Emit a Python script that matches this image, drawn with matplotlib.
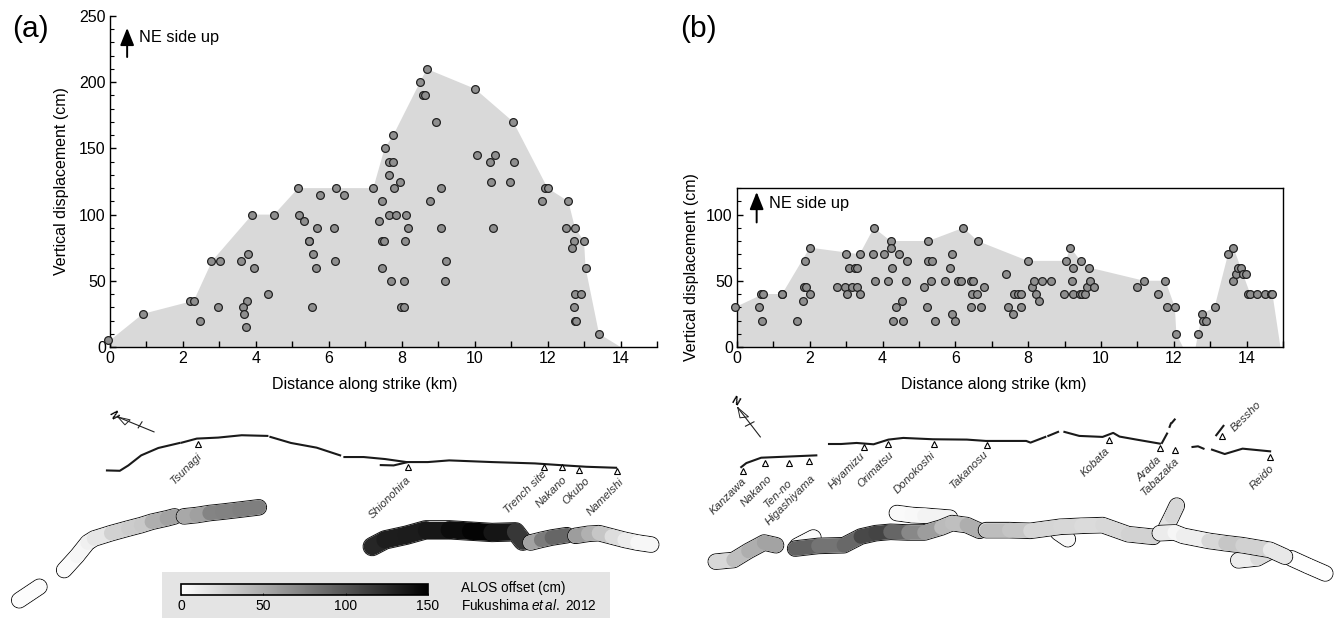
import numpy as np
import matplotlib
matplotlib.use('Agg')
import matplotlib.pyplot as plt
from matplotlib.collections import LineCollection
from matplotlib.cm import ScalarMappable
from matplotlib.colors import Normalize
from matplotlib.ticker import MultipleLocator

plt.rcParams['font.family'] = ['Liberation Sans', 'DejaVu Sans']
plt.rcParams['mathtext.fontset'] = 'custom'
plt.rcParams['mathtext.it'] = 'Liberation Sans:italic'
plt.rcParams['mathtext.rm'] = 'Liberation Sans'

W, H = 1335, 618

# ---- offset points, panel a
xa = [-0.05, 0.9, 2.2, 2.3, 2.47, 2.78, 3.02, 2.97, 3.58, 3.78, 3.95, 3.9, 4.5, 4.34, 3.75, 3.66, 3.68, 3.74,
      5.16, 5.18, 5.33, 5.69, 5.76, 5.45, 5.47, 5.57, 5.66, 5.54, 6.13, 6.19, 6.41, 6.16, 7.22, 7.39, 7.45, 7.45,
      7.45, 7.5, 7.53, 7.64, 7.64, 7.75, 7.77, 7.8, 7.94, 7.65, 7.83, 8.13, 8.16, 8.08, 7.7, 8.06, 7.97, 8.06,
      8.5, 8.58, 8.63, 8.69, 8.94, 8.78, 9.08, 9.09, 9.21, 9.18, 10.01, 10.07, 10.43, 10.55, 10.46, 10.51, 10.98,
      11.06, 11.08, 11.86, 11.92, 12.0, 12.57, 12.5, 12.75, 12.73, 12.66, 13.0, 13.04, 12.75, 12.92, 12.72, 12.75,
      12.77, 13.41]
ya = [5, 25, 35, 35, 20, 65, 65, 30, 65, 70, 60, 100, 100, 40, 35, 30, 25, 15,
      120, 100, 95, 90, 115, 80, 80, 70, 60, 30, 90, 120, 115, 65, 120, 95, 110, 60,
      80, 80, 150, 130, 140, 140, 160, 120, 125, 100, 100, 100, 90, 80, 50, 50, 30, 30,
      200, 190, 190, 210, 170, 110, 120, 90, 65, 50, 195, 145, 140, 145, 125, 90, 125,
      170, 140, 110, 120, 120, 110, 90, 90, 80, 75, 80, 60, 40, 40, 30, 20,
      20, 10]
env_xa = [0, 0.9, 2.3, 2.8, 3.9, 4.5, 5.16, 7.22, 7.53, 7.77, 8.5, 8.69, 10.01, 11.06, 12.0, 12.57, 12.75, 13.0, 13.04, 13.41, 14.0]
env_ya = [5, 25, 35, 65, 100, 100, 120, 120, 150, 160, 200, 210, 195, 170, 120, 110, 90, 80, 60, 10, 0]

# ---- offset points, panel b
xb = [-0.05, 0.6, 0.66, 0.72, 0.69, 1.23, 1.24, 1.64, 1.82, 1.86, 1.84, 1.89, 2.0, 2.01, 2.75, 2.98, 3.0, 3.01, 3.09,
      3.23, 3.31, 3.16, 3.29, 3.37, 3.38, 3.74, 3.76, 3.78, 4.04, 4.15, 4.22, 4.23, 4.27, 4.44, 4.66, 4.65, 4.36, 4.52,
      4.29, 4.57, 5.15, 5.22, 5.26, 5.26, 5.37, 5.33, 5.43, 5.72, 5.86, 5.92, 5.92, 5.99, 6.06, 6.16, 6.22, 6.43, 6.49,
      6.45, 6.6, 6.43, 6.61, 6.69, 6.78, 7.39, 7.45, 7.59, 7.62, 7.71, 7.81, 7.8, 7.99, 8.1, 8.17, 8.21, 8.29, 8.38, 8.62,
      8.98, 9.03, 9.16, 9.21, 9.23, 9.23, 9.41, 9.48, 9.44, 9.56, 9.62, 9.67, 9.7, 9.81, 10.98, 11.18, 11.57, 11.77, 11.82,
      12.02, 12.07, 12.67, 12.78, 12.81, 12.88, 13.12, 13.49, 13.64, 13.63, 13.7, 13.77, 13.84, 13.89, 13.98, 14.05, 14.1,
      14.28, 14.5, 14.68, 14.71]
yb = [30, 30, 40, 40, 20, 40, 40, 20, 35, 65, 45, 45, 75, 40, 45, 45, 70, 40, 60,
      60, 60, 45, 45, 70, 40, 70, 90, 50, 70, 50, 80, 75, 60, 70, 65, 50, 30, 35,
      20, 20, 45, 30, 80, 65, 65, 50, 20, 50, 60, 70, 25, 20, 50, 50, 90, 50, 50,
      40, 40, 30, 80, 30, 45, 55, 30, 25, 40, 40, 40, 30, 65, 45, 50, 40, 35, 50, 50,
      40, 65, 75, 50, 60, 40, 40, 40, 65, 40, 45, 60, 50, 45, 45, 50, 40, 50, 30,
      30, 10, 10, 25, 20, 20, 30, 70, 75, 50, 55, 60, 60, 55, 55, 40, 40,
      40, 40, 40, 40]
env_xb = [-0.05, 0.72, 1.24, 2.0, 3.37, 3.76, 4.22, 5.26, 6.22, 6.61, 7.99, 9.03, 9.16, 9.44, 9.67, 11.18, 11.77, 12.03, 12.07,
          12.25, 12.6, 12.67, 12.78, 13.12, 13.49, 13.64, 14.1, 14.71, 14.93]
env_yb = [30, 40, 40, 75, 70, 90, 80, 80, 90, 80, 65, 65, 75, 65, 60, 50, 50, 30, 10, 0, 0, 10, 25, 30, 70, 75, 40, 40, 0]

# ---- map a (x, y)
fault_a = [[(250, 225), (280, 226), (300, 210), (330, 180), (370, 158), (420, 143)],
           [(425, 142), (460, 130), (510, 127), (565, 120), (625, 122)],
           [(632, 125), (680, 143), (740, 157), (795, 180)],
           [(805, 185), (850, 185), (900, 191), (950, 200), (1000, 200), (1050, 195), (1150, 200),
            (1250, 204), (1320, 210), (1370, 214), (1440, 217)],
           [(890, 209), (920, 210), (950, 201)]]
tri_xa = [463, 953, 1271, 1314, 1354, 1441]
tri_ya = [147, 216, 214, 215, 223, 227]
names_a = ['Tsunagi', 'Shionohira', 'Trench site', 'Nakano', 'Okubo', 'Namelshi']
name_xa = [435, 912, 1229, 1288, 1347, 1415]
name_ya = [220, 306, 291, 290, 286, 303]

strips_a = [
    ([(45, 612), (92, 572)], [2, 2], 10.5),
    ([(150, 522), (180, 480), (205, 440), (220, 428), (260, 412), (300, 398), (330, 388), (355, 378), (390, 368), (408, 362)],
     [2, 3, 8, 10, 20, 35, 25, 40, 55, 55], 10.5),
    ([(430, 362), (460, 358), (490, 352), (520, 348), (560, 342), (605, 335)], [60, 42, 70, 75, 72, 78], 10.5),
    ([(870, 452), (900, 432), (950, 418), (995, 402), (1050, 402), (1100, 406), (1150, 410), (1205, 408), (1222, 436)],
     [125, 130, 135, 132, 140, 145, 150, 125, 110], 12.5),
    ([(1240, 440), (1265, 432), (1290, 425), (1325, 418)], [40, 70, 85, 95], 10.5),
    ([(1345, 420), (1375, 414), (1400, 412), (1430, 422), (1460, 432), (1490, 440), (1522, 446)], [65, 50, 42, 25, 15, 8, 2], 10.5),
]

# ---- map b
fault_b = [[(168, 215), (180, 203), (215, 187), (345, 180)],
           [(375, 146), (400, 146)],
           [(405, 146), (440, 143), (480, 147), (515, 133), (550, 128), (620, 132), (700, 133), (745, 137), (840, 137), (850, 142), (885, 125)],
           [(892, 122), (915, 110)],
           [(930, 110), (965, 122), (1020, 125), (1045, 113), (1060, 124), (1100, 133), (1155, 145)],
           [(1160, 143), (1172, 115)], [(1178, 95), (1181, 85)], [(1184, 82), (1190, 73)],
           [(1232, 155), (1245, 153), (1258, 160)],
           [(1278, 163), (1308, 176), (1350, 160), (1415, 168)],
           [(1288, 120), (1305, 92)]]
tri_xb = [172, 225, 281, 327, 458, 515, 623, 747, 1034, 1155, 1190, 1415, 1302]
tri_yb = [227, 203, 202, 196, 154, 146, 146, 149, 134, 158, 164, 184, 121]
names_b = ['Kanzawa', 'Nakano', 'Ten-no', 'Higashiyama', 'Hiyamizu', 'Orimatsu', 'Donokoshi', 'Takanosu',
           'Kobata', 'Arada', 'Tabazaka', 'Reido', 'Bessho']
name_xb = [137, 203, 256, 285, 417, 485, 578, 705, 1003, 1130, 1157, 1395, 1358]
name_yb = [302, 287, 292, 312, 226, 222, 233, 222, 201, 220, 242, 245, 65]

strips_b = [
    ([(300, 450), (338, 425)], [3, 3], 10.5),
    ([(535, 352), (570, 358), (600, 360), (660, 366)], [3, 4, 5, 10], 10.5),
    ([(915, 410), (938, 430)], [5, 5], 10.5),
    ([(1170, 395), (1183, 362), (1195, 330)], [12, 22, 25], 10.5),
    ([(1340, 493), (1385, 487), (1410, 470)], [5, 18, 25], 10.5),
    ([(1465, 487), (1505, 510), (1545, 532)], [1, 1, 1], 10.5),
    ([(108, 497), (150, 492), (185, 465), (222, 440), (250, 448)], [15, 32, 45, 50, 58], 10.5),
    ([(295, 458), (350, 450), (410, 448), (450, 422), (485, 412), (520, 408), (560, 410), (600, 410), (640, 395), (665, 382), (700, 388), (730, 405)],
     [100, 85, 78, 100, 115, 105, 75, 65, 50, 30, 45, 50], 10.5),
    ([(745, 403), (800, 403), (850, 405), (920, 393), (970, 390), (1020, 388), (1080, 415), (1140, 423)],
     [38, 40, 28, 22, 25, 18, 28, 25], 10.5),
    ([(1155, 412), (1190, 410), (1210, 420), (1270, 435), (1310, 442), (1350, 448), (1415, 462), (1450, 482)],
     [20, 3, 8, 12, 35, 32, 22, 5], 10.5),
]

cbar_ticks = [0, 50, 100, 150]


def px_axes(left, top, right, bottom, **kw):
    return fig.add_axes([left / W, 1 - bottom / H, (right - left) / W, (bottom - top) / H], **kw)


def draw_panel(ax, x, y, ex, ey, ymax, yticks, label_x, ypad):
    ax.fill(ex + [ex[-1], ex[0]], ey + [0, 0], color='#d9d9d9', lw=0, zorder=1)
    ax.plot(x, y, 'o', ms=5.6, mfc='#8f8f8f', mec='#222222', mew=0.9, clip_on=False, zorder=3)
    ax.set_xlim(0, 15)
    ax.set_ylim(0, ymax)
    ax.set_xticks(np.arange(0, 15, 2))
    ax.xaxis.set_minor_locator(MultipleLocator(1))
    ax.set_yticks(yticks)
    ax.yaxis.set_minor_locator(MultipleLocator(10))
    ax.tick_params(which='major', direction='in', length=4.5, width=1, labelsize=11.5, pad=3)
    ax.tick_params(axis='y', which='minor', direction='in', length=3, width=0.8)
    ax.tick_params(axis='x', which='minor', direction='in', length=4.5, width=1)
    ax.set_xlabel('Distance along strike (km)', fontsize=11.5, labelpad=8, x=label_x)
    ax.set_ylabel('Vertical displacement (cm)', fontsize=11.5, labelpad=ypad)
    for s in ax.spines.values():
        s.set_linewidth(1)


def draw_strip(ax, pts, vals, lw):
    # black outline first, then shaded pieces on top
    xs = [p[0] for p in pts]
    ys = [p[1] for p in pts]
    ax.plot(xs, ys, color='#111111', lw=lw + 1.4, solid_capstyle='round', solid_joinstyle='round', zorder=2)
    ax.plot(xs, ys, color='white', lw=lw, solid_capstyle='round', solid_joinstyle='round', zorder=2)
    segs = [[pts[i], pts[i + 1]] for i in range(len(pts) - 1)]
    cols = [(vals[i] + vals[i + 1]) / 2 for i in range(len(pts) - 1)]
    lc = LineCollection(segs, cmap='gray_r', norm=Normalize(0, 150), linewidths=lw, capstyle='round', zorder=2)
    lc.set_array(np.array(cols))
    ax.add_collection(lc)


def draw_map(ax, faults, tx, ty, names, nx, ny, strips):
    ax.axis('off')
    for f in faults:
        ax.plot([p[0] for p in f], [p[1] for p in f], color='#1a1a1a', lw=1.5, zorder=2)
    ax.plot(tx, ty, '^', ms=4, mfc='white', mec='black', mew=0.8, zorder=3)
    for n, a, b in zip(names, nx, ny):
        ax.text(a, b, n, rotation=45, rotation_mode='anchor', style='italic', fontsize=8.2, color='#333333', ha='center', va='center')
    for pts, vals, lw in strips:
        draw_strip(ax, pts, vals, lw)


def draw_arrow(ax, x, y0, y1):
    ax.annotate('', xy=(x, y1), xytext=(x, y0),
                arrowprops=dict(arrowstyle='-|>,head_width=0.42,head_length=1.05', color='black', lw=1.4, shrinkA=0, shrinkB=0))


fig = plt.figure(figsize=(W / 100, H / 100), dpi=100)

# top plots
ax1 = px_axes(110, 16, 657, 347)
draw_panel(ax1, xa, ya, env_xa, env_ya, 250, [0, 50, 100, 150, 200, 250], 0.466, 7)
ax1.spines['top'].set_visible(False)
ax1.spines['right'].set_visible(False)
draw_arrow(ax1, 0.47, 219, 241)
ax1.text(0.8, 233.5, 'NE side up', fontsize=11.8, va='center')

ax2 = px_axes(737, 188, 1283, 347)
draw_panel(ax2, xb, yb, env_xb, env_yb, 120, [0, 50, 100], 0.47, 5)
draw_arrow(ax2, 0.54, 94, 117)
ax2.text(0.87, 108, 'NE side up', fontsize=11.8, va='center')

fig.text(12 / W, 1 - 29 / H, '(a)', fontsize=21.5, va='center')
fig.text(680 / W, 1 - 29 / H, '(b)', fontsize=21.5, va='center')

# maps
map_a = px_axes(0, 395, 670, 618, xlim=(0, 1566), ylim=(665, 0))
map_a.patch.set_alpha(0)
draw_map(map_a, fault_a, tri_xa, tri_ya, names_a, name_xa, name_ya, strips_a)
map_a.plot([276, 360], [66, 110], color='#222222', lw=0.8)
map_a.plot([276, 304, 292, 276], [66, 74, 89, 66], color='#222222', lw=0.7)
map_a.plot([332, 323], [80, 98], color='#222222', lw=0.8)
map_a.text(264, 60, 'N', rotation=-62, fontsize=7.5, fontweight='bold', ha='center', va='center')

map_b = px_axes(670, 395, 1335, 618, xlim=(0, 1568), ylim=(665, 0))
map_b.patch.set_alpha(0)
draw_map(map_b, fault_b, tri_xb, tri_yb, names_b, name_xb, name_yb, strips_b)
map_b.plot([160, 213], [38, 125], color='#222222', lw=0.8)
map_b.plot([160, 185, 165, 160], [38, 65, 68, 38], color='#222222', lw=0.7)
map_b.plot([198, 178], [80, 93], color='#222222', lw=0.8)
map_b.text(153, 20, 'N', rotation=-30, fontsize=7.5, fontweight='bold', ha='center', va='center')

# colour bar box
box = px_axes(162, 572, 610, 618, facecolor='#e4e4e4', xticks=[], yticks=[])
for s in box.spines.values():
    s.set_visible(False)
cax = px_axes(181, 584, 428, 595)
cb = fig.colorbar(ScalarMappable(Normalize(0, 150), 'gray_r'), cax=cax, orientation='horizontal', ticks=cbar_ticks)
cb.ax.tick_params(direction='in', length=1.5, width=0.6, labelsize=10, pad=3)
cb.outline.set_linewidth(1.2)
fig.text(461 / W, 1 - 588 / H, 'ALOS offset (cm)', fontsize=9.8, va='center')
fig.text(461 / W, 1 - 605 / H, r'Fukushima $\mathit{et\,al.}$ 2012', fontsize=9.8, va='center')

fig.savefig('out.png', dpi=100)
